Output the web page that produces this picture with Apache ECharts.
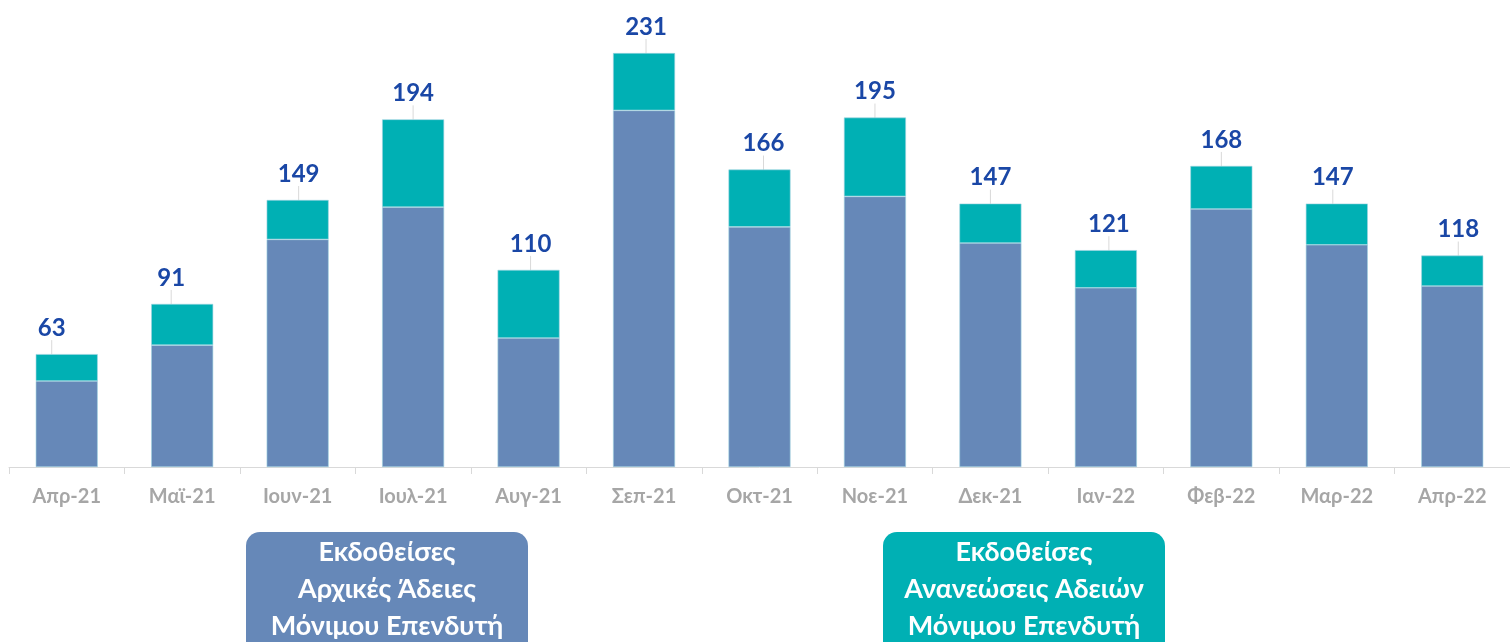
<!DOCTYPE html>
<html>
<head>
<meta charset="utf-8">
<script src="https://cdn.jsdelivr.net/npm/echarts@6/dist/echarts.min.js"></script>
<style>
html,body{margin:0;padding:0;background:#fff}
#chart{width:1510px;height:642px}
</style>
</head>
<body>
<div id="chart"></div>
<script>
// 月份 / 初次许可 / 续期 — 数值从图上读
const months=['Απρ-21','Μαϊ-21','Ιουν-21','Ιουλ-21','Αυγ-21','Σεπ-21','Οκτ-21','Νοε-21','Δεκ-21','Ιαν-22','Φεβ-22','Μαρ-22','Απρ-22'];
const initial=[48,68,127,145,72,199,134,151,125,100,144,124,101];
const renewals=[15,23,22,49,38,32,32,44,22,21,24,23,17];
const totals=[63,91,149,194,110,231,166,195,147,121,168,147,118];
// 数值标签的水平偏移（引线略斜）
const labelDx=[-15,-11,1,0,2,2,4,0,0,3,0,-4,6];

const BLUE='#6688b8', TEAL='#00b0b4', FONT='Lato, "Open Sans", sans-serif';
const chart=echarts.init(document.getElementById('chart'));

function legendBox(x,color,lines){
  return {type:'group',left:x,top:532,children:[
    {type:'rect',shape:{x:0,y:0,width:282,height:124,r:14},style:{fill:color}},
    {type:'text',style:{x:141,y:2,text:lines.join('\n'),fill:'#fff',align:'center',
      font:'bold 27px '+FONT,lineHeight:37}}
  ]};
}

chart.setOption({
  animation:false,
  grid:{left:9,right:-4,top:19,bottom:175},
  xAxis:{type:'category',data:months,
    axisLine:{lineStyle:{color:'#d9d9d9'}},
    axisTick:{show:true,length:7,lineStyle:{color:'#d9d9d9'}},
    axisLabel:{color:'#a6a6a6',fontSize:20,fontWeight:'bold',fontFamily:FONT,margin:20}},
  yAxis:{type:'value',min:0,max:250,show:false},
  series:[
    {name:'Αρχικές',type:'bar',stack:'a',barWidth:62,data:initial,
     itemStyle:{color:BLUE,borderColor:'#9fd3e0',borderWidth:0.6}},
    {name:'Ανανεώσεις',type:'bar',stack:'a',barWidth:62,data:renewals,
     itemStyle:{color:TEAL,borderColor:'#9fd3e0',borderWidth:0.6},
     label:{show:true,position:'top',distance:2,
       formatter:p=>totals[p.dataIndex],
       color:'#1a47a6',fontSize:24,fontWeight:'bold',fontFamily:FONT},
     labelLayout:p=>({dy:-12,dx:labelDx[p.dataIndex]}),
     labelLine:{show:true,lineStyle:{color:'#d9d9d9',width:1}}}
  ],
  graphic:[
    legendBox(246,BLUE,['Εκδοθείσες','Αρχικές Άδειες','Μόνιμου Επενδυτή']),
    legendBox(883,TEAL,['Εκδοθείσες','Ανανεώσεις Αδειών','Μόνιμου Επενδυτή'])
  ]
});
</script>
</body>
</html>
